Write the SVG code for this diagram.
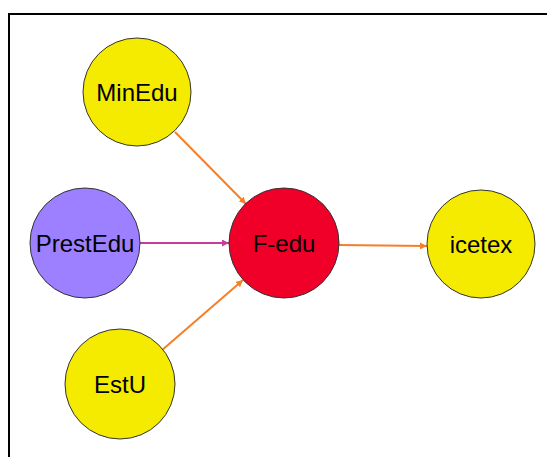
<svg xmlns="http://www.w3.org/2000/svg" width="547" height="457" viewBox="0 0 547 457">
<defs>
<marker id="ao" viewBox="0 0 10 10" refX="10" refY="5" markerWidth="7" markerHeight="7" markerUnits="userSpaceOnUse" orient="auto"><path d="M0,0 L10,5 L0,10 z" fill="#f57f27"/></marker>
<marker id="am" viewBox="0 0 10 10" refX="10" refY="5" markerWidth="7" markerHeight="7" markerUnits="userSpaceOnUse" orient="auto"><path d="M0,0 L10,5 L0,10 z" fill="#c53d97"/></marker>
</defs>
<style>
.n{stroke:#333;stroke-width:1}
.y{fill:#f5eb00}
.t{font-family:"Liberation Sans",Arial,sans-serif;font-size:24px;fill:#000;text-anchor:middle;dominant-baseline:central}
.o{stroke:#f57f27;stroke-width:2;fill:none;marker-end:url(#ao)}
.m{stroke:#c53d97;stroke-width:2;fill:none;marker-end:url(#am)}
</style>
<rect width="547" height="457" fill="#fff"/>
<path d="M9,457 V14 H547" fill="none" stroke="#000" stroke-width="2"/>
<g id="connectors">
<line class="o" x1="175" y1="132" x2="246" y2="204"/>
<line class="m" x1="140" y1="243" x2="229" y2="243"/>
<line class="o" x1="161" y1="351" x2="243" y2="280"/>
<line class="o" x1="339" y1="245" x2="427" y2="246"/>
</g>
<g id="MinEdu"><circle class="n y" cx="137" cy="92" r="54"/><text class="t" x="137" y="92">MinEdu</text></g>
<g id="PrestEdu"><circle class="n" fill="#9c80ff" cx="85" cy="243" r="55"/><text class="t" x="85" y="243">PrestEdu</text></g>
<g id="F-edu"><circle class="n" fill="#f00029" cx="284" cy="243" r="55"/><text class="t" x="284" y="243">F-edu</text></g>
<g id="icetex"><circle class="n y" cx="481" cy="244" r="54"/><text class="t" x="481" y="244">icetex</text></g>
<g id="EstU"><circle class="n y" cx="120" cy="384" r="55"/><text class="t" x="120" y="384">EstU</text></g>
</svg>
